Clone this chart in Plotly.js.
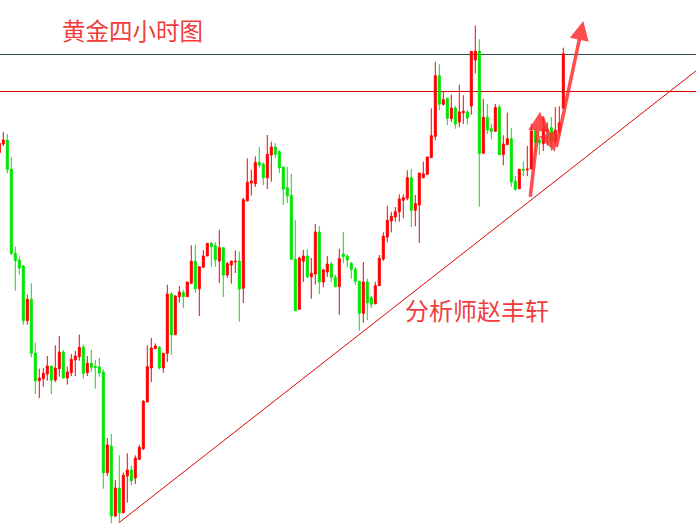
<!DOCTYPE html>
<html>
<head>
<meta charset="utf-8">
<script src="https://cdn.plot.ly/plotly-3.0.1.min.js"></script>
<style>html,body{margin:0;padding:0;background:#fff;}#chart{width:696px;height:524px;}</style>
</head>
<body>
<div id="chart"></div>
<script>
// Candle values (arbitrary price units)
const openV = [371.3,380,384,354.7,270.7,264,258,203.3,224.7,170.7,143.3,145.3,150,158,144,155.3,172,146,151.3,164,167.3,176.7,151.3,160.7,157.5,157,152,51.3,78,8,36,11.3,48,54,46,64.7,75.3,122,156,175.3,176.7,156,170.7,230,189.3,227.3,231.3,227.3,240.7,262.7,235.3,256.7,268,280.7,278.3,263,276.3,249,259,262,263,235.7,323,341,340.3,361.7,359.7,346.3,369,377,372.3,357,336.3,328.7,264.7,214.7,262.7,268,247.3,250,292,242,252,260,246.7,237.3,270,268,260.7,254.7,242.7,210.7,242,226.3,220.3,238.3,265,287,303,307,312.3,323.7,325.7,346.3,313.7,319,346.3,349.7,366.3,387.7,448.3,419.7,425.7,405.3,416,402,411.3,412,418,464,472.7,370.7,406.7,395.3,392.7,416.7,369.3,379.3,385.3,342.7,335.3,354.7,354.3,355,393,384.3,380.3,393.3,396.3,382.3,392.3,415.7];
const highV = [383,392,390,366.7,277.3,267.3,259,229.3,240.7,181.3,155.3,156,168,158,178.7,188,174,157.3,170,173.3,189.3,179.3,168,174,164,166,154.7,86,90,44,68.7,51.3,70.7,58.7,68.7,79.3,124,178.7,186,180.7,178,170.7,239.3,232,228.7,238,234,242,278.7,279.3,257.3,274,280.7,282,281.7,294.3,277,262.3,263,273.7,272.3,326.3,365.7,354.3,367.7,377,361.7,389,382.3,381,373.7,357,357,350,304,267.3,274,274.7,266,300,298,255.3,268,262,249.3,275.3,292,269.3,262,256.7,242.7,262,245.3,228.3,242.3,269,291.7,318.3,312.3,317,329.7,329.7,353.7,355,329,351,362.3,367,415.7,462.3,459.7,432.3,425.7,429.3,418,439.3,428.7,414,472.7,498.7,484.7,425.3,420,400,420,419.3,388.7,411.3,396,348,355.3,362.7,378,400.3,395.7,387.7,407,401.7,407,417,417.7,476.3];
const lowV = [370,378,350.7,268.7,233.3,249.3,199.3,199.3,166.7,130,126,137.3,143.3,130,142,147.3,146,139.3,148,148,163.3,145.3,148,152,135.3,147.3,35.3,48,0.7,6.7,2,10.7,21.3,38.7,40,64,74,122,142,174.7,154.7,151.3,162,169.3,189.3,221.3,216,227.3,240,231.3,208,256.7,268,257.3,257,241,227,246.3,240.3,251,202.3,221,323,328.3,337,356.3,339,335,342.3,365.7,351,319,321,264.7,213.3,214.7,242,246,225.3,239.3,230,236.7,247.3,242,236.7,209.3,260.7,256.7,245.3,239.3,193.3,201.3,204,216,219.7,238.3,263,281.7,291.7,302.3,302.3,305.7,323.7,297,297.7,281,345.7,349.7,366.3,383.7,413.7,418.3,399,402,395.3,396.7,400,399.3,409.3,450.7,317.3,370.7,390,384.7,392.7,369.3,358.7,379.3,337.3,333.3,335.3,348,348,355,372.3,369,373,378.3,373,381,390.3,415.7];
const closeV = [380.7,384,354.7,270.7,263.3,256,203.3,224.7,170.7,143.3,146,150.7,158,144,156,172,146,152,164.7,168,176.7,150.7,160.7,156.7,156.5,151,51.3,79,8,36,11.3,48.7,54,43.3,66,76.7,122.7,157.3,176,178,156,170.7,230,189.3,228,232,227.3,242,262.7,235.3,257.3,268,280.7,277.3,264.3,276.3,249,260.3,263,262.7,235,324.3,341.7,343,361.7,359,346.3,369.7,377,369.7,356.3,335,328.3,264.7,213.3,266,268,247.3,250.7,292,242,254,260,246.7,237.3,265.3,267.3,264,254.7,242.7,210.7,242,221.3,219.7,238.3,265.7,287.7,303.7,307.7,312.3,325,326.3,346.3,313.7,320.3,351,350.3,367,388.3,448.3,419.7,424.3,405.7,416,400,412,412.7,406,472.7,472.7,370.7,406.7,394,392.7,416.7,369.3,380,385.3,342,334.7,354.7,353.7,355,393,381.7,381,395,394.5,383,393.7,401,470.3];

// horizontal levels
const levelValues = [469.5, 432.5];
const levelColors = ['#2f4f4f', '#e00000'];

// trend line (candle index, price)
const trendX = [29.9, 174.2];
const trendY = [1.3, 453.2];

// hand-drawn arrows: tail -> head (candle index, price)
const arrowTailX = [132.7, 135.6, 139.2];
const arrowTailY = [325.7, 409, 375.7];
const arrowHeadX = [135.2, 138.9, 146.0];
const arrowHeadY = [412.3, 372.3, 503];

// labels
const titleText = '黄金四小时图';
const analystText = '分析师赵丰轩';

const idx = openV.map((_, i) => i);

const traces = [
  {
    type: 'candlestick',
    x: idx, open: openV, high: highV, low: lowV, close: closeV,
    increasing: {line: {color: '#ff0000', width: 1}, fillcolor: '#ff0000'},
    decreasing: {line: {color: '#00e600', width: 1}, fillcolor: '#00e600'},
    whiskerwidth: 0,
    hoverinfo: 'skip'
  },
  {
    type: 'scatter', mode: 'lines', x: trendX, y: trendY,
    line: {color: '#e00000', width: 1}, hoverinfo: 'skip'
  }
];

const shapes = levelValues.map((v, k) => ({
  type: 'line', xref: 'paper', x0: 0, x1: 1, yref: 'y', y0: v, y1: v,
  line: {color: levelColors[k], width: 1}, layer: 'below'
}));

const annotations = arrowHeadX.map((hx, k) => ({
  x: hx, y: arrowHeadY[k], ax: arrowTailX[k], ay: arrowTailY[k],
  xref: 'x', yref: 'y', axref: 'x', ayref: 'y',
  text: '', showarrow: true, arrowhead: 2, arrowsize: 1.1, arrowwidth: 3.5,
  arrowcolor: 'rgba(255,40,40,0.82)', standoff: 0, startstandoff: 0
}));
annotations.push({
  xref: 'paper', yref: 'paper', x: 0.1904, y: 0.9427, xanchor: 'center', yanchor: 'middle',
  text: titleText, showarrow: false,
  font: {family: 'Noto Sans CJK SC', size: 23.5, color: '#f23c3c'}
});
annotations.push({
  xref: 'paper', yref: 'paper', x: 0.6853, y: 0.4084, xanchor: 'center', yanchor: 'middle',
  text: analystText, showarrow: false,
  font: {family: 'Noto Sans CJK SC', size: 24, color: '#f23c3c'}
});

const layout = {
  width: 696, height: 524,
  margin: {l: 0, r: 0, t: 0, b: 0, pad: 0},
  paper_bgcolor: '#ffffff', plot_bgcolor: '#ffffff',
  showlegend: false,
  boxgap: 0.5, boxgroupgap: 0,
  xaxis: {range: [0.175, 174.175], visible: false, rangeslider: {visible: false}, fixedrange: true},
  yaxis: {range: [0, 524], visible: false, fixedrange: true},
  shapes: shapes,
  annotations: annotations
};

Plotly.newPlot('chart', traces, layout, {displayModeBar: false, staticPlot: true});
</script>
</body>
</html>
